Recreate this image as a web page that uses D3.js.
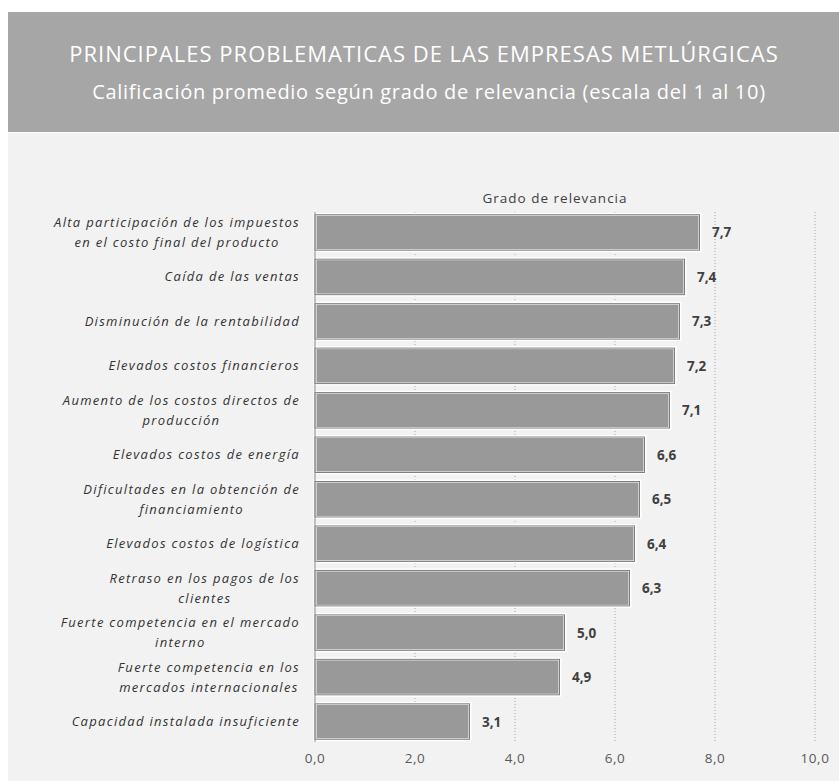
<!DOCTYPE html>
<html>
<head>
<meta charset="utf-8">
<script src="https://cdn.jsdelivr.net/npm/d3@7"></script>
<style>
  body { margin: 0; background: #ffffff; }
  svg { display: block; }
  .title { fill: #ffffff; font-family: "Open Sans", sans-serif; }
  .cat { font-family: "Open Sans", sans-serif; font-style: italic; font-size: 13px; letter-spacing: 1.3px; fill: #333333; }
  .tick-label { font-family: "Open Sans", sans-serif; font-size: 13.5px; letter-spacing: 0.6px; fill: #595959; }
  .value { font-family: "Open Sans", sans-serif; font-size: 13.5px; font-weight: 700; fill: #404040; }
</style>
</head>
<body>
<svg id="chart" width="839" height="781"></svg>
<script>
// data
const categories = [
  ["Alta participación de los impuestos", "en el costo final del producto"],
  ["Caída de las ventas"],
  ["Disminución de la rentabilidad"],
  ["Elevados costos financieros"],
  ["Aumento de los costos directos de", "producción"],
  ["Elevados costos de energía"],
  ["Dificultades en la obtención de", "financiamiento"],
  ["Elevados costos de logística"],
  ["Retraso en los pagos de los", "clientes"],
  ["Fuerte competencia en el mercado", "interno"],
  ["Fuerte competencia en los", "mercados internacionales"],
  ["Capacidad instalada insuficiente"]
];
const values = [7.7, 7.4, 7.3, 7.2, 7.1, 6.6, 6.5, 6.4, 6.3, 5.0, 4.9, 3.1];
const ticks = [0, 2, 4, 6, 8, 10];
const titleText = "PRINCIPALES PROBLEMATICAS DE LAS EMPRESAS METLÚRGICAS";
const subtitleText = "Calificación  promedio según grado de relevancia (escala del 1 al 10)";
const seriesName = "Grado de relevancia";

const svg = d3.select("#chart");
const fmt = v => d3.format(".1f")(v).replace(".", ",");

// background panels
svg.append("rect").attr("x", 8).attr("y", 12).attr("width", 831).attr("height", 120).attr("fill", "#a6a6a6");
svg.append("rect").attr("x", 8).attr("y", 133).attr("width", 831).attr("height", 648).attr("fill", "#f2f2f2");

svg.append("text").attr("class", "title")
  .attr("x", 424).attr("y", 62).attr("text-anchor", "middle")
  .style("font-size", "22px").style("letter-spacing", "1px").text(titleText);
svg.append("text").attr("class", "title")
  .attr("x", 429).attr("y", 99).attr("text-anchor", "middle")
  .style("font-size", "20px").style("letter-spacing", "0.7px").text(subtitleText);

// scales
const idx = values.map((d, i) => i);
const scaleX = d3.scaleLinear().domain([0, 10]).range([315, 815]);
const scaleY = d3.scaleBand().domain(idx).range([212, 742]).paddingInner(0.18).paddingOuter(0.05);

const plotTop = 212, plotBottom = 742;

// gridlines
svg.append("g").selectAll("line").data(ticks.slice(1)).join("line")
  .attr("x1", d => scaleX(d)).attr("x2", d => scaleX(d))
  .attr("y1", plotTop).attr("y2", plotBottom)
  .attr("stroke", "#a6a6a6").attr("stroke-width", 1).attr("stroke-dasharray", "1,2");

// bars
svg.append("g").selectAll("rect").data(values).join("rect")
  .attr("x", scaleX(0))
  .attr("y", (d, i) => scaleY(i))
  .attr("width", d => scaleX(d) - scaleX(0))
  .attr("height", scaleY.bandwidth())
  .attr("fill", "#999999")
  .attr("stroke", "#ffffff").attr("stroke-width", 3);
svg.append("g").selectAll("rect").data(values).join("rect")
  .attr("x", scaleX(0))
  .attr("y", (d, i) => scaleY(i) + 0.5)
  .attr("width", d => scaleX(d) - scaleX(0) - 0.5)
  .attr("height", scaleY.bandwidth() - 1)
  .attr("fill", "none")
  .attr("stroke", "#7f7f7f").attr("stroke-width", 1);

// y axis line
svg.append("line").attr("x1", scaleX(0)).attr("x2", scaleX(0))
  .attr("y1", plotTop).attr("y2", plotBottom)
  .attr("stroke", "#8c8c8c").attr("stroke-width", 1);

// value labels
svg.append("g").selectAll("text").data(values).join("text")
  .attr("class", "value")
  .attr("x", d => scaleX(d) + 12)
  .attr("y", (d, i) => scaleY(i) + scaleY.bandwidth() / 2 + 5)
  .text(d => fmt(d));

// x axis tick labels
svg.append("g").selectAll("text").data(ticks).join("text")
  .attr("class", "tick-label")
  .attr("x", d => scaleX(d)).attr("y", 763)
  .attr("text-anchor", "middle")
  .text(d => fmt(d));

// series name
svg.append("text").attr("class", "tick-label")
  .attr("x", 555).attr("y", 203).attr("text-anchor", "middle")
  .style("font-size", "13.5px").style("letter-spacing", "1px").style("fill", "#404040")
  .text(seriesName);

// category labels: right-aligned block, lines centered within block
const labelRight = 300;
const catG = svg.append("g");
categories.forEach((lines, i) => {
  const cy = scaleY(i) + scaleY.bandwidth() / 2;
  const t = catG.append("text").attr("class", "cat").attr("text-anchor", "middle");
  const spans = lines.map((l, j) => t.append("tspan").text(l));
  const widths = spans.map(s => s.node().getComputedTextLength());
  const w = d3.max(widths);
  const cx = labelRight - w / 2;
  const lh = 20;
  const y0 = cy - (lines.length - 1) * lh / 2 + 4.5;
  spans.forEach((s, j) => s.attr("x", cx).attr("y", y0 + j * lh));
});
</script>
</body>
</html>
